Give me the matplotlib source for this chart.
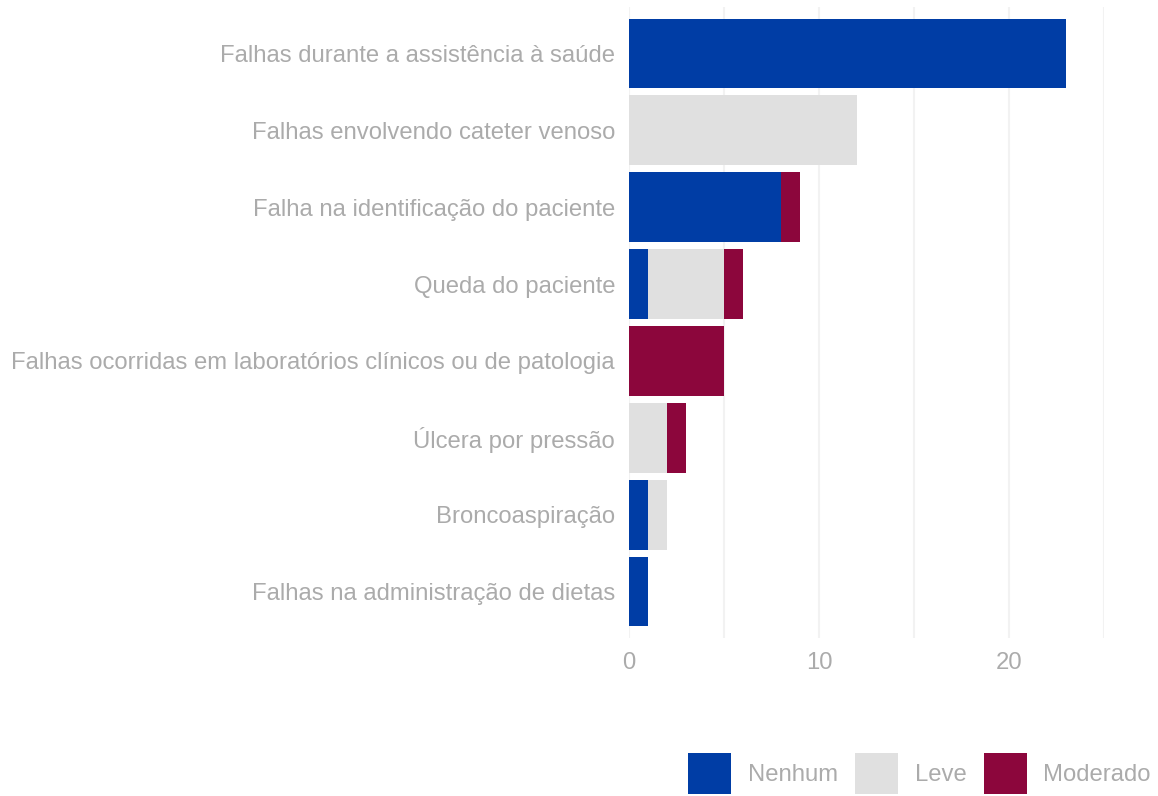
import matplotlib
matplotlib.use('Agg')
import matplotlib.pyplot as plt
import numpy as np

categories = ['Falhas durante a assistência à saúde',
              'Falhas envolvendo cateter venoso',
              'Falha na identificação do paciente',
              'Queda do paciente',
              'Falhas ocorridas em laboratórios clínicos ou de patologia',
              'Úlcera por pressão',
              'Broncoaspiração',
              'Falhas na administração de dietas']
nenhum = [23, 0, 8, 1, 0, 0, 1, 1]
leve = [0, 12, 0, 4, 0, 2, 1, 0]
moderado = [0, 0, 1, 1, 5, 1, 0, 0]
series = [('Nenhum', nenhum, '#003DA5'),
          ('Leve', leve, '#E0E0E0'),
          ('Moderado', moderado, '#8C063C')]
x_ticks = [0, 10, 20]

grey = '#ABABAB'
plt.rcParams['font.family'] = ['Liberation Sans', 'DejaVu Sans']

fig = plt.figure(figsize=(11.58, 7.96), dpi=100)
ax = fig.add_axes([629/1158, 1 - 638/796, (1104 - 629)/1158, (638 - 7)/796])

y = np.arange(len(categories))
left = np.zeros(len(categories))
for name, vals, col in series:
    ax.barh(y, vals, left=left, height=0.9, color=col, label=name, zorder=2)
    left += np.array(vals)

ax.set_xlim(0, 25)
ax.set_ylim(len(categories) - 0.4, -0.6)
ax.set_yticks(y)
ax.set_yticklabels(categories)
ax.set_xticks(x_ticks)
ax.set_xticks([5, 15, 25], minor=True)
ax.tick_params(axis='both', length=0, labelsize=17.2, labelcolor=grey)
ax.tick_params(axis='y', pad=10)
ax.tick_params(axis='x', pad=10)
ax.tick_params(axis='x', which='minor', length=0)
ax.grid(axis='x', which='both', color='#F2F2F2', linewidth=1.5, zorder=0)
ax.grid(axis='y', visible=False)
for s in ax.spines.values():
    s.set_visible(False)

leg = fig.legend(loc='lower right', bbox_to_anchor=(1.002, -0.01), ncol=3, frameon=False,
                 fontsize=17.2, labelcolor=grey, handlelength=1.82, handleheight=2.3,
                 handletextpad=0.68, columnspacing=0.72, borderaxespad=0.0)

plt.savefig('out.png')
plt.close()
